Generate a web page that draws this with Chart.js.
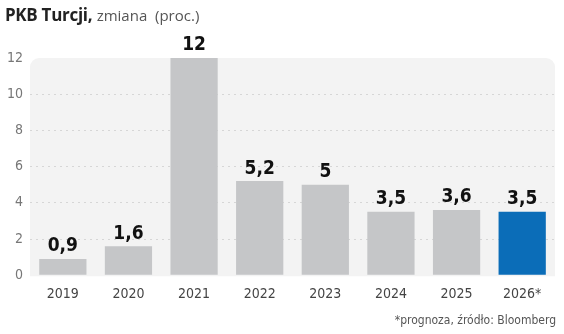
<!DOCTYPE html>
<html>
<head>
<meta charset="utf-8">
<script src="https://cdn.jsdelivr.net/npm/chart.js@4"></script>
<style>
  body { margin: 0; background: #fff; }
  #wrap { position: relative; width: 564px; height: 334px; }
  #title { position: absolute; left: 5px; top: 3px; font-family: "Open Sans", sans-serif; font-size: 17px; color: #222; white-space: nowrap; }
  #title b { font-weight: 700; letter-spacing: -0.3px; }
  #title span { color: #555; font-size: 15px; }
  #note { position: absolute; right: 8px; top: 313px; font-family: "DejaVu Sans Condensed", sans-serif; font-size: 12px; color: #555; }
</style>
</head>
<body>
<div id="wrap">
  <canvas id="c" width="564" height="334"></canvas>
  <div id="title"><b>PKB Turcji,</b> <span>zmiana&nbsp; (proc.)</span></div>
  <div id="note">*prognoza, źródło: Bloomberg</div>
</div>
<script>
// -----------------------------
// Data
// -----------------------------
const years = ["2019", "2020", "2021", "2022", "2023", "2024", "2025", "2026*"];
const growth = [0.9, 1.6, 12, 5.2, 5, 3.5, 3.6, 3.5];
const valueLabels = ["0,9", "1,6", "12", "5,2", "5", "3,5", "3,6", "3,5"];
const yTicks = [0, 2, 4, 6, 8, 10, 12];

const grey = "#c5c6c8";
const blue = "#0b6db8";
const barColors = years.map(y => y.endsWith("*") ? blue : grey);

// light panel behind the bars
const panelPlugin = {
  id: "panel",
  beforeDraw(chart) {
    const { ctx, chartArea: a } = chart;
    ctx.save();
    ctx.fillStyle = "#f3f3f3";
    ctx.beginPath();
    ctx.roundRect(a.left, a.top, a.right - a.left, a.bottom - a.top + 1, [9, 9, 0, 0]);
    ctx.fill();
    ctx.restore();
  }
};

// numbers above bars
const labelPlugin = {
  id: "valueLabels",
  afterDatasetsDraw(chart) {
    const { ctx } = chart;
    const meta = chart.getDatasetMeta(0);
    ctx.save();
    ctx.font = "bold 19px 'DejaVu Sans Condensed', sans-serif";
    ctx.fillStyle = "#111";
    ctx.textAlign = "center";
    ctx.textBaseline = "bottom";
    meta.data.forEach((bar, i) => {
      ctx.fillText(valueLabels[i], bar.x, bar.y - 3);
    });
    ctx.restore();
  }
};

new Chart(document.getElementById("c"), {
  type: "bar",
  data: {
    labels: years,
    datasets: [{
      data: growth,
      backgroundColor: barColors,
      barPercentage: 0.72,
      categoryPercentage: 1
    }]
  },
  options: {
    responsive: false,
    animation: false,
    layout: { padding: { top: 58, right: 9, bottom: 28, left: 0 } },
    plugins: { legend: { display: false }, tooltip: { enabled: false } },
    scales: {
      x: {
        grid: { display: false },
        border: { display: false },
        ticks: { color: "#444", font: { family: "DejaVu Sans Condensed", size: 14 }, padding: 3 }
      },
      y: {
        min: 0, max: 12,
        afterBuildTicks: axis => { axis.ticks = yTicks.map(v => ({ value: v })); },
        border: { display: false, dash: [2, 4] },
        grid: {
          color: ctx => (ctx.tick.value === 0 || ctx.tick.value === 12) ? "rgba(0,0,0,0)" : "#d6d6d6",
          drawTicks: false
        },
        ticks: { color: "#777", font: { family: "DejaVu Sans Condensed", size: 14 }, padding: 7 }
      }
    }
  },
  plugins: [panelPlugin, labelPlugin]
});
</script>
</body>
</html>
